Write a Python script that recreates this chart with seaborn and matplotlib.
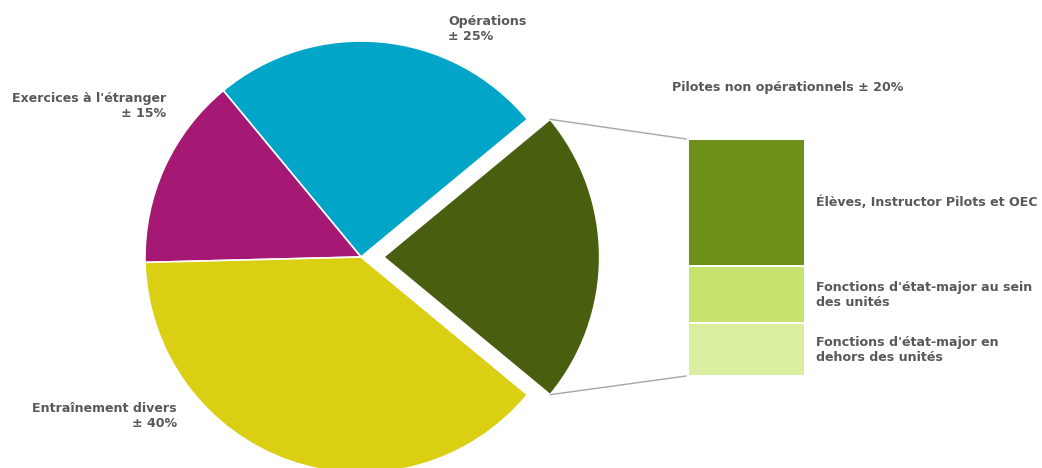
import matplotlib
matplotlib.use("Agg")
import matplotlib.pyplot as plt
from matplotlib.patches import ConnectionPatch
import seaborn as sns
import numpy as np

# ---- data ----
pie_labels = ["Pilotes non opérationnels ± 20%", "Opérations\n± 25%",
              "Exercices à l'étranger\n± 15%", "Entraînement divers\n± 40%"]
pie_values = [22.0, 25.0, 14.4, 38.6]
pie_colors = ["#4A5E10", "#00A5C8", "#A51874", "#DBCF13"]

bar_labels = ["Élèves, Instructor Pilots et OEC",
              "Fonctions d'état-major au sein\ndes unités",
              "Fonctions d'état-major en\ndehors des unités"]
bar_values = [11.8, 5.3, 4.9]
bar_colors = ["#6E8F19", "#C5E36E", "#D9EE9E"]

# ---- style ----
sns.set_theme(style="white")
plt.rcParams["font.family"] = ["DejaVu Sans"]
TXT = "#595959"
FS = 9.1

W, H = 1042, 468
fig = plt.figure(figsize=(W / 100, H / 100), dpi=100)

# pie axes: centre (361, 257) px, radius ~216 px
cx, cy, rpx = 361, 257, 216
lim = 1.3
side = 2 * lim * rpx
axp = fig.add_axes([(cx - side / 2) / W, ((H - cy) - side / 2) / H, side / W, side / H])
explode = [0.105, 0, 0, 0]
wedges, _ = axp.pie(pie_values, colors=pie_colors, startangle=-39.6,
                    explode=explode, counterclock=True, frame=False,
                    wedgeprops=dict(edgecolor="white", linewidth=1.2))
axp.set_xlim(-lim, lim)
axp.set_ylim(-lim, lim)
axp.set_axis_off()

tk = dict(color=TXT, fontsize=FS, fontweight="bold", linespacing=1.22)
axp.text((448 - cx) / rpx, (cy - 29) / rpx, pie_labels[1], ha="left", va="center", **tk)
axp.text((166 - cx) / rpx, (cy - 106) / rpx, pie_labels[2], ha="right", va="center",
         multialignment="right", **tk)
axp.text((177 - cx) / rpx, (cy - 416) / rpx, pie_labels[3], ha="right", va="center",
         multialignment="right", **tk)

# bar axes: x 688-805, y 139-376 px
bx0, bx1, by0, by1 = 688, 805, 139, 376
axb = fig.add_axes([bx0 / W, (H - by1) / H, (bx1 - bx0) / W, (by1 - by0) / H])
total = sum(bar_values)
order = list(range(len(bar_values)))[::-1]  # bottom to top
bottom = 0.0
centers = {}
for i in order:
    sns.barplot(x=[0], y=[bar_values[i]], bottom=bottom, color=bar_colors[i],
                width=1.0, ax=axb, edgecolor="white", linewidth=1.4, saturation=1)
    centers[i] = bottom + bar_values[i] / 2
    bottom += bar_values[i]
axb.set_xlim(-0.5, 0.5)
axb.set_ylim(0, total)
axb.set_axis_off()

for i in range(len(bar_values)):
    axb.text((816 - bx0) / (bx1 - bx0), centers[i], bar_labels[i], ha="left", va="center",
             transform=axb.get_yaxis_transform(), **tk)
axb.annotate(pie_labels[0], xy=(0, 1), xycoords="axes fraction",
             xytext=(672 - bx0, by0 - 88), textcoords="offset pixels",
             ha="left", va="center", **tk)

# connector lines from exploded wedge tips to bar corners
w = wedges[0]
wcx, wcy = w.center
for theta, ycorner in [(w.theta2, 1), (w.theta1, 0)]:
    px = wcx + w.r * np.cos(np.radians(theta))
    py = wcy + w.r * np.sin(np.radians(theta))
    con = ConnectionPatch(xyA=(px, py), coordsA=axp.transData,
                          xyB=(-0.015, ycorner), coordsB=axb.transAxes,
                          color="#A6A6A6", linewidth=1.0)
    fig.add_artist(con)

fig.savefig("out.png", dpi=100, facecolor="white")
